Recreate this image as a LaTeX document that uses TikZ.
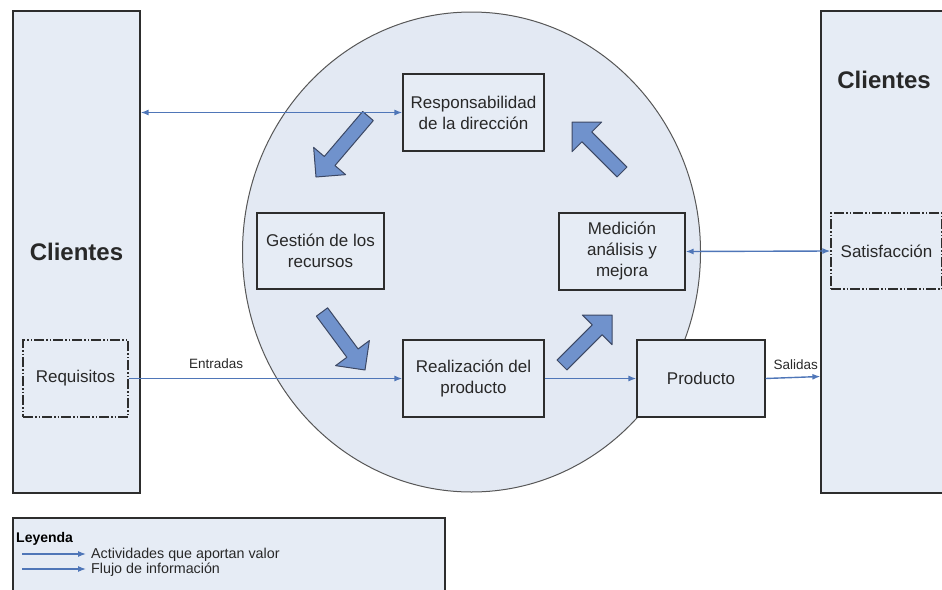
\documentclass[tikz,border=0pt]{standalone}
\usepackage{fontspec}
\setmainfont{Liberation Sans}
\usetikzlibrary{arrows.meta,calc}

\definecolor{fondo}{RGB}{230,236,245}
\definecolor{circulo}{RGB}{227,233,243}
\definecolor{linea}{RGB}{79,118,184}
\definecolor{bloque}{RGB}{112,146,204}
\definecolor{bloquebd}{RGB}{60,72,100}
\definecolor{borde}{RGB}{45,45,45}
\definecolor{texto}{RGB}{40,40,40}

% flecha gruesa entre dos coordenadas
\newcommand{\flechagrande}[2]{%
  \coordinate (fh) at ($(#2)!21pt!(#1)$);
  \filldraw[bigarrow] ($(#1)!7pt!90:(#2)$) -- ($(fh)!7pt!90:(#2)$)
    -- ($(fh)!21pt!90:(#2)$) -- (#2) -- ($(fh)!21pt!-90:(#2)$)
    -- ($(fh)!7pt!-90:(#2)$) -- ($(#1)!7pt!-90:(#2)$) -- cycle;}

\begin{document}
\begin{tikzpicture}[x=1pt, y=-1pt,
    caja/.style={draw=borde, line width=1.2pt, fill=fondo, text=texto, align=center,
      inner sep=0pt, font=\fontsize{17}{21}\selectfont},
    punteada/.style={caja, dash pattern=on 10pt off 2pt on 1.5pt off 2pt on 1.5pt off 2pt},
    flujo/.style={draw=linea, line width=1.4pt, -{Latex[length=8pt,width=6pt]}},
    doble/.style={flujo, {Latex[length=8pt,width=6pt]}-{Latex[length=8pt,width=6pt]}},
    bigarrow/.style={fill=bloque, draw=bloquebd, line width=1pt, line join=round},
    etiqueta/.style={text=texto, font=\fontsize{13.5}{16}\selectfont}]
  \useasboundingbox (0,0) rectangle (942,589);
  \clip (0,0) rectangle (942,589);

  % clientes a ambos lados
  \node[caja, minimum width=127pt, minimum height=482pt, font=\bfseries\fontsize{24}{28}\selectfont]
    (CL) at (76.5,252) {Clientes};
  \node[caja, minimum width=140pt, minimum height=482pt] (CR) at (891,252) {};
  \node[text=texto, font=\bfseries\fontsize{24}{28}\selectfont] (CRt) at (884,80) {Clientes};
  \node[punteada, minimum width=105pt, minimum height=77pt] (Req) at (75.5,378.5) {Requisitos};
  \node[punteada, minimum width=111pt, minimum height=76pt] (Sat) at (886.5,251) {Satisfacción};

  % el proceso
  \draw[draw=borde!80, fill=circulo, line width=1pt] (471.5,252) ellipse [x radius=229, y radius=240];
  \node[caja, minimum width=141pt, minimum height=77pt] (Resp) at (473.5,112.5) {Responsabilidad\\de la dirección};
  \node[caja, minimum width=127pt, minimum height=76pt] (Gest) at (320.5,251) {Gestión de los\\recursos};
  \node[caja, minimum width=126pt, minimum height=77pt] (Med) at (622,251.5) {Medición\\análisis y\\mejora};
  \node[caja, minimum width=141pt, minimum height=77pt] (Real) at (473.5,378.5) {Realización del\\producto};
  \node[caja, minimum width=128pt, minimum height=77pt] (Prod) at (701,378.5) {Producto};

  % flechas gruesas del ciclo
  \coordinate (a1) at (368,116); \coordinate (b1) at (316,177);
  \coordinate (a2) at (322,312); \coordinate (b2) at (365,370);
  \coordinate (a3) at (562,365); \coordinate (b3) at (612,315);
  \coordinate (a4) at (622,172); \coordinate (b4) at (572,122);
  \flechagrande{a1}{b1}
  \flechagrande{a2}{b2}
  \flechagrande{a3}{b3}
  \flechagrande{a4}{b4}

  % flujo de informacion
  \draw[doble] (Resp.west) -- (Resp.west -| CL.east);
  \draw[flujo] (Req.east) -- node[etiqueta, above=6pt, pos=0.32]{Entradas} (Real.west);
  \draw[flujo] (Real.east) -- (Prod.west);
  \draw[flujo] (Prod.east) -- node[etiqueta, above=4pt, pos=0.55]{Salidas} ([yshift=2pt]Prod.east -| CR.west);
  \draw[doble] (Med.east) -- (Sat.west);

  % leyenda
  \node[caja, minimum width=432pt, minimum height=100pt] (Ley) at (229,568) {};
  \node[anchor=west, inner sep=0pt, font=\bfseries\fontsize{14}{16}\selectfont] (LeyT) at (16,539) {Leyenda};
  \coordinate (l1) at (22,554); \coordinate (l1b) at (86,554);
  \coordinate (l2) at (22,569); \coordinate (l2b) at (86,569);
  \draw[flujo, line width=1.2pt] (l1) -- (l1b);
  \draw[flujo, line width=1.2pt] (l2) -- (l2b);
  \node[anchor=west, inner sep=0pt, etiqueta, font=\fontsize{14.3}{16}\selectfont] (LeyA) at (91,555) {Actividades que aportan valor};
  \node[anchor=west, inner sep=0pt, etiqueta, font=\fontsize{14.3}{16}\selectfont] (LeyF) at (91,570) {Flujo de información};
\end{tikzpicture}
\end{document}
